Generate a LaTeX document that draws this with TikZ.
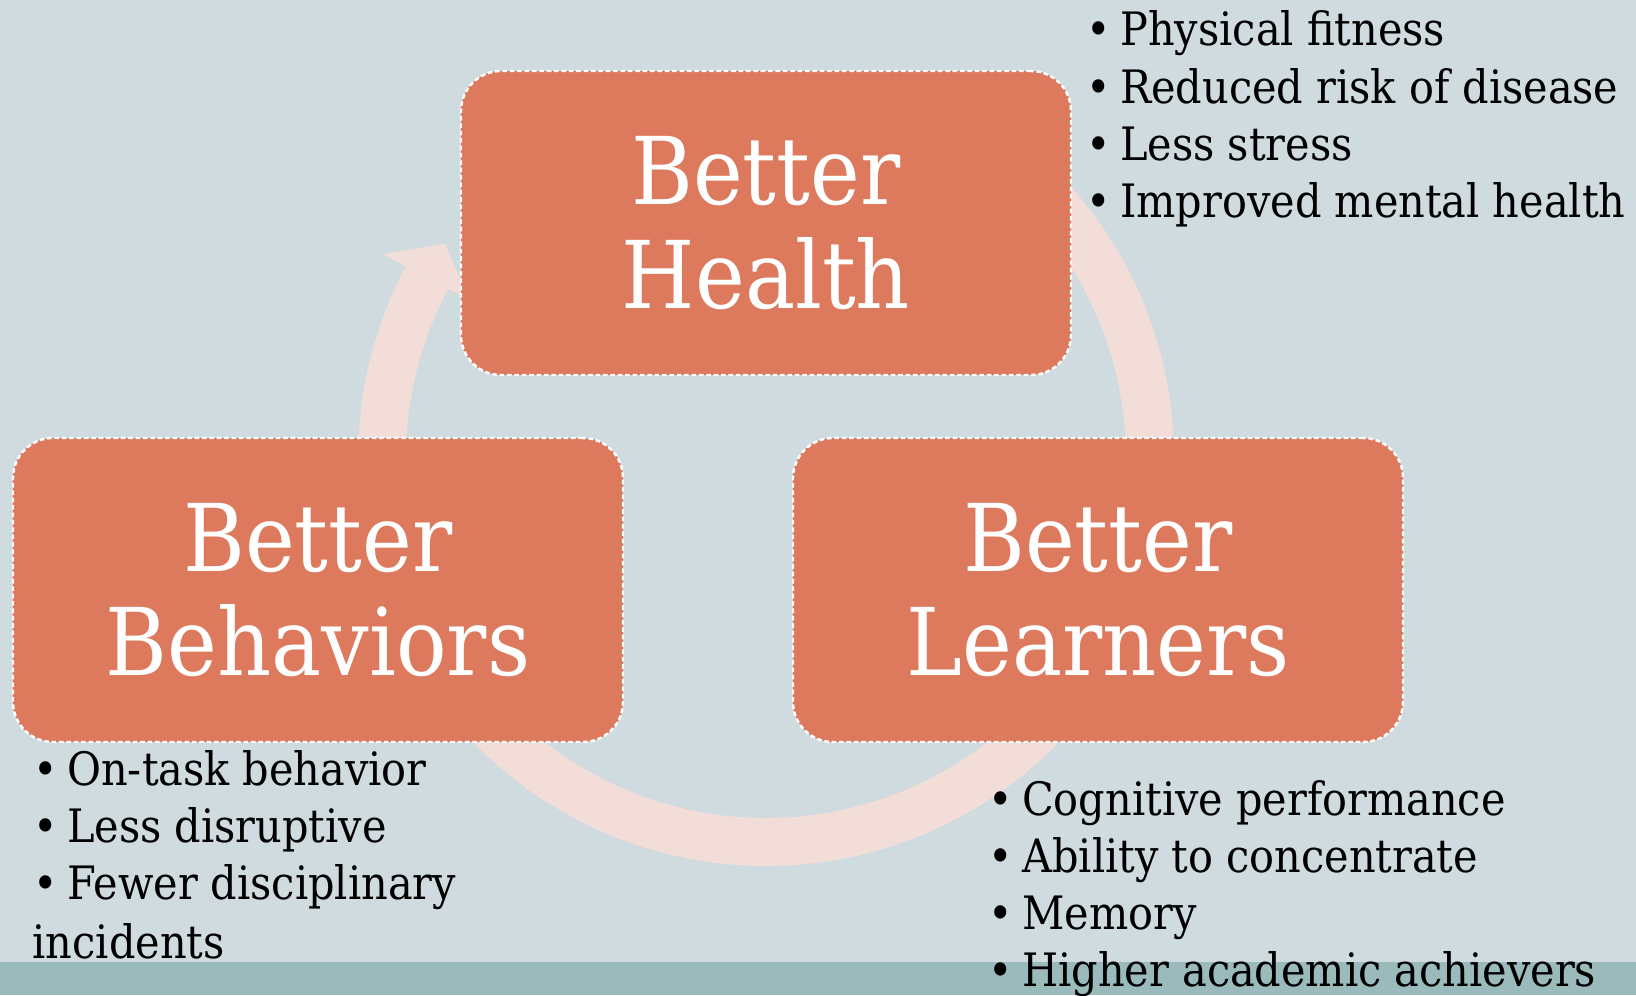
\documentclass[tikz,border=0pt]{standalone}
\usepackage{fontspec}
\setmainfont{DejaVu Serif Condensed}
\usetikzlibrary{positioning}

\definecolor{slide}{RGB}{207,219,223}
\definecolor{footband}{RGB}{155,186,188}
\definecolor{boxfill}{RGB}{221,121,92}
\definecolor{ringfill}{RGB}{242,221,217}

\newcommand{\bul}{\textbullet\hskip0.2em}

\begin{document}
\begin{tikzpicture}[
    cyclebox/.style={draw=white, dash pattern=on 1.3pt off 0.8pt, line width=0.7pt,
      fill=boxfill, rounded corners=0.4cm, minimum width=6.1cm, minimum height=3.04cm,
      text=white, align=center, font=\fontsize{26.6}{29.5}\selectfont},
    item/.style={anchor=base west, inner sep=0pt, font=\fontsize{13.1}{16}\selectfont}]
  \useasboundingbox (0,0) rectangle (16.36,9.95);
  \fill[slide] (0,0) rectangle (16.36,9.95);
  \fill[footband] (0,0) rectangle (16.36,0.33);

  % the cycle ring, drawn first so the boxes sit on it
  \coordinate (O) at (7.66,5.37);
  \coordinate (RS) at ([shift={(50:3.84)}]O);
  \coordinate (HA) at ([shift={(152:3.36)}]O);
  \coordinate (HB) at ([shift={(152:4.34)}]O);
  \coordinate (HT) at ([shift={(146.3:3.86)}]O);
  \draw[ringfill, line width=0.48cm] (RS) arc[start angle=50, end angle=-208, radius=3.84];
  \fill[ringfill] (HA) -- (HT) -- (HB) -- cycle;

  % the three boxes
  \node[cyclebox] (health) at (7.66,7.72) {Better\\Health};
  \node[cyclebox] (behav) at (3.18,4.05) {Better\\Behaviors};
  \node[cyclebox] (learn) at (10.98,4.05) {Better\\Learners};

  % bullet lists
  \foreach \t [count=\i] in {Physical fitness, Reduced risk of disease, Less stress, Improved mental health}
    \node[item] (hl\i) at (10.86,{9.49-0.573*(\i-1)}) {\bul\t};
  \foreach \t [count=\i] in {On-task behavior, Less disruptive, Fewer disciplinary}
    \node[item] (bl\i) at (0.33,{2.10-0.573*(\i-1)}) {\bul\t};
  \node[item] (bl4) at (0.32,0.37) {incidents};
  \foreach \t [count=\i] in {Cognitive performance, Ability to concentrate, Memory, Higher academic achievers}
    \node[item] (ll\i) at (9.88,{1.80-0.573*(\i-1)}) {\bul\t};
\end{tikzpicture}
\end{document}
